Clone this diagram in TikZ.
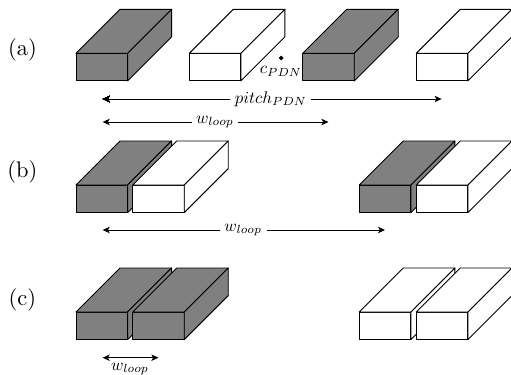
\documentclass[tikz,border=0pt]{standalone}
\usepackage{amsmath,amssymb}
\usetikzlibrary{arrows.meta,backgrounds}
\pgfdeclarelayer{edgelayer}
\pgfdeclarelayer{nodelayer}
\pgfsetlayers{background,edgelayer,nodelayer,main}
\tikzstyle{none}=[inner sep=0mm]
\tikzstyle{tip}=[>={Stealth[length=5pt,width=4.6pt,inset=1.3pt]},line width=0.6pt]
\tikzstyle{diredge}=[<->,tip]
\tikzstyle{halfedge}=[->,tip]
\tikzstyle{dimlabel}=[inner sep=2.5pt,transform shape,scale=1.2]
\tikzstyle{rowlabel}=[inner sep=0pt,transform shape,scale=1.6]
\tikzstyle{black dot}=[inner sep=0.35mm,minimum width=0pt,minimum height=0pt,fill=black,draw=black,shape=circle]
\tikzstyle{gb}=[draw=black,line width=0.65pt,line join=round,fill={rgb,255:red,128;green,128;blue,128}]
\tikzstyle{wb}=[draw=black,line width=0.65pt,line join=round,fill=white]
\newcommand{\brick}[3]{% left x, top y of the front face, style
	\draw [style=#3] (#1, #2) rectangle ++(1.29, -0.69);
	\draw [style=#3] (#1, #2) -- ++(1.1, 1.1) -- ++(1.29, 0) -- ++(-1.1, -1.1) -- cycle;
	\draw [style=#3] (#1+1.29, #2) -- ++(1.1, 1.1) -- ++(0, -0.69) -- ++(-1.1, -1.1) -- cycle;
}
\begin{document}
\begin{tikzpicture}
	\useasboundingbox (0, 0) rectangle (12.775, -9.375);
	\begin{pgfonlayer}{nodelayer}
		\node [style=rowlabel] (a) at (0.56, -1.25) {(a)};
		\node [style=rowlabel] (b) at (0.56, -4.3) {(b)};
		\node [style=rowlabel] (c) at (0.56, -7.5) {(c)};
		\node [style=black dot] (cdot) at (7.03, -1.45) {};
		\node [style=dimlabel,inner sep=0pt] (cpdn) at (7.02, -1.78) {$c_{PDN}$};
		\node [style=dimlabel] (pitch) at (6.77, -2.475) {$pitch_{PDN}$};
		\node [style=none] (pl) at (2.567, -2.475) {};
		\node [style=none] (pr) at (11.04, -2.475) {};
		\node [style=dimlabel] (wa) at (5.375, -3.05) {$w_{loop}$};
		\node [style=none] (wal) at (2.567, -3.05) {};
		\node [style=none] (war) at (8.21, -3.05) {};
		\node [style=dimlabel] (wb) at (6.08, -5.75) {$w_{loop}$};
		\node [style=none] (wbl) at (2.567, -5.75) {};
		\node [style=none] (wbr) at (9.625, -5.75) {};
		\node [style=dimlabel,inner sep=0pt] (wc) at (3.25, -9.23) {$w_{loop}$};
		\node [style=none] (wcl) at (2.567, -8.943) {};
		\node [style=none] (wcr) at (3.96, -8.943) {};
	\end{pgfonlayer}
	\begin{pgfonlayer}{edgelayer}
		\foreach \xb/\yb/\st in {1.9/-1.333/gb, 4.733/-1.333/wb, 7.567/-1.333/gb, 10.408/-1.333/wb, 1.9/-4.625/gb, 3.317/-4.625/wb, 8.983/-4.625/gb, 10.408/-4.625/wb, 1.9/-7.8/gb, 3.317/-7.8/gb, 8.983/-7.8/wb, 10.408/-7.8/wb}
			\brick{\xb}{\yb}{\st}
		\draw [style=halfedge] (pitch) to (pl.center);
		\draw [style=halfedge] (pitch) to (pr.center);
		\draw [style=halfedge] (wa) to (wal.center);
		\draw [style=halfedge] (wa) to (war.center);
		\draw [style=halfedge] (wb) to (wbl.center);
		\draw [style=halfedge] (wb) to (wbr.center);
		\draw [style=diredge] (wcl.center) to (wcr.center);
	\end{pgfonlayer}
\end{tikzpicture}
\end{document}
